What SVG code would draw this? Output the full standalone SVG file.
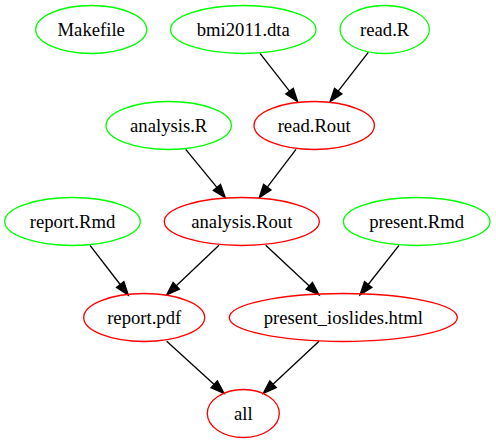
<svg xmlns="http://www.w3.org/2000/svg" width="496" height="443" viewBox="0 0 496 443">
<style>
.src ellipse{fill:none;stroke:#00ff00;stroke-width:1.33}
.tgt ellipse{fill:none;stroke:#ff0000;stroke-width:1.33}
text{font-family:'Liberation Serif','Times New Roman',Times,serif;font-size:18.67px;fill:#000;text-anchor:middle}
#edges line{stroke:#000;stroke-width:1.33;marker-end:url(#arr)}
</style>
<defs>
<marker id="arr" viewBox="-1 -1 15.3 11.33" refX="0" refY="4.67" markerWidth="15.3" markerHeight="11.33" markerUnits="userSpaceOnUse" orient="auto" overflow="visible">
<path d="M0,0 L13.3,4.67 L0,9.33 z" fill="#000" stroke="#000" stroke-width="1.33"/>
</marker>
</defs>
<rect width="496" height="443" fill="#fff"/>
<g id="edges">
<line x1="260" y1="53.3" x2="289.5" y2="91.2"/>
<line x1="368.3" y1="52.3" x2="338.2" y2="91.2"/>
<line x1="185.7" y1="149.3" x2="216.9" y2="187.4"/>
<line x1="296" y1="149.3" x2="267.3" y2="187.1"/>
<line x1="90" y1="245.3" x2="120.2" y2="284.5"/>
<line x1="219" y1="245.3" x2="176.3" y2="285.8"/>
<line x1="265.7" y1="245.3" x2="309.3" y2="285.9"/>
<line x1="399" y1="245.3" x2="368.2" y2="284.5"/>
<line x1="166.7" y1="341.3" x2="214.2" y2="384.4"/>
<line x1="319" y1="341.3" x2="273" y2="384.2"/>
</g>
<g id="Makefile" class="src"><ellipse cx="91.2" cy="29.5" rx="55.5" ry="24"/><text x="91.2" y="36">Makefile</text></g>
<g id="bmi2011_dta" class="src"><ellipse cx="243.3" cy="29.5" rx="72.7" ry="24"/><text x="243.3" y="36">bmi2011.dta</text></g>
<g id="read_R" class="src"><ellipse cx="384.7" cy="29.5" rx="44.7" ry="24"/><text x="384.7" y="36">read.R</text></g>
<g id="analysis_R" class="src"><ellipse cx="168.7" cy="125.5" rx="62.7" ry="24"/><text x="168.7" y="132">analysis.R</text></g>
<g id="read_Rout" class="tgt"><ellipse cx="314.2" cy="125.5" rx="60.2" ry="24"/><text x="314.2" y="132">read.Rout</text></g>
<g id="report_Rmd" class="src"><ellipse cx="72.5" cy="221.5" rx="67.8" ry="24"/><text x="72.5" y="228">report.Rmd</text></g>
<g id="analysis_Rout" class="tgt"><ellipse cx="241.8" cy="221.5" rx="77.5" ry="24"/><text x="241.8" y="228">analysis.Rout</text></g>
<g id="present_Rmd" class="src"><ellipse cx="416.7" cy="221.5" rx="73.3" ry="24"/><text x="416.7" y="228">present.Rmd</text></g>
<g id="report_pdf" class="tgt"><ellipse cx="144.2" cy="317.5" rx="60.5" ry="24"/><text x="144.2" y="324">report.pdf</text></g>
<g id="present_ioslides_html" class="tgt"><ellipse cx="343.3" cy="317.5" rx="114" ry="24"/><text x="343.3" y="324">present_ioslides.html</text></g>
<g id="all" class="tgt"><ellipse cx="243.3" cy="413.5" rx="36" ry="24"/><text x="243.3" y="420">all</text></g>
</svg>
